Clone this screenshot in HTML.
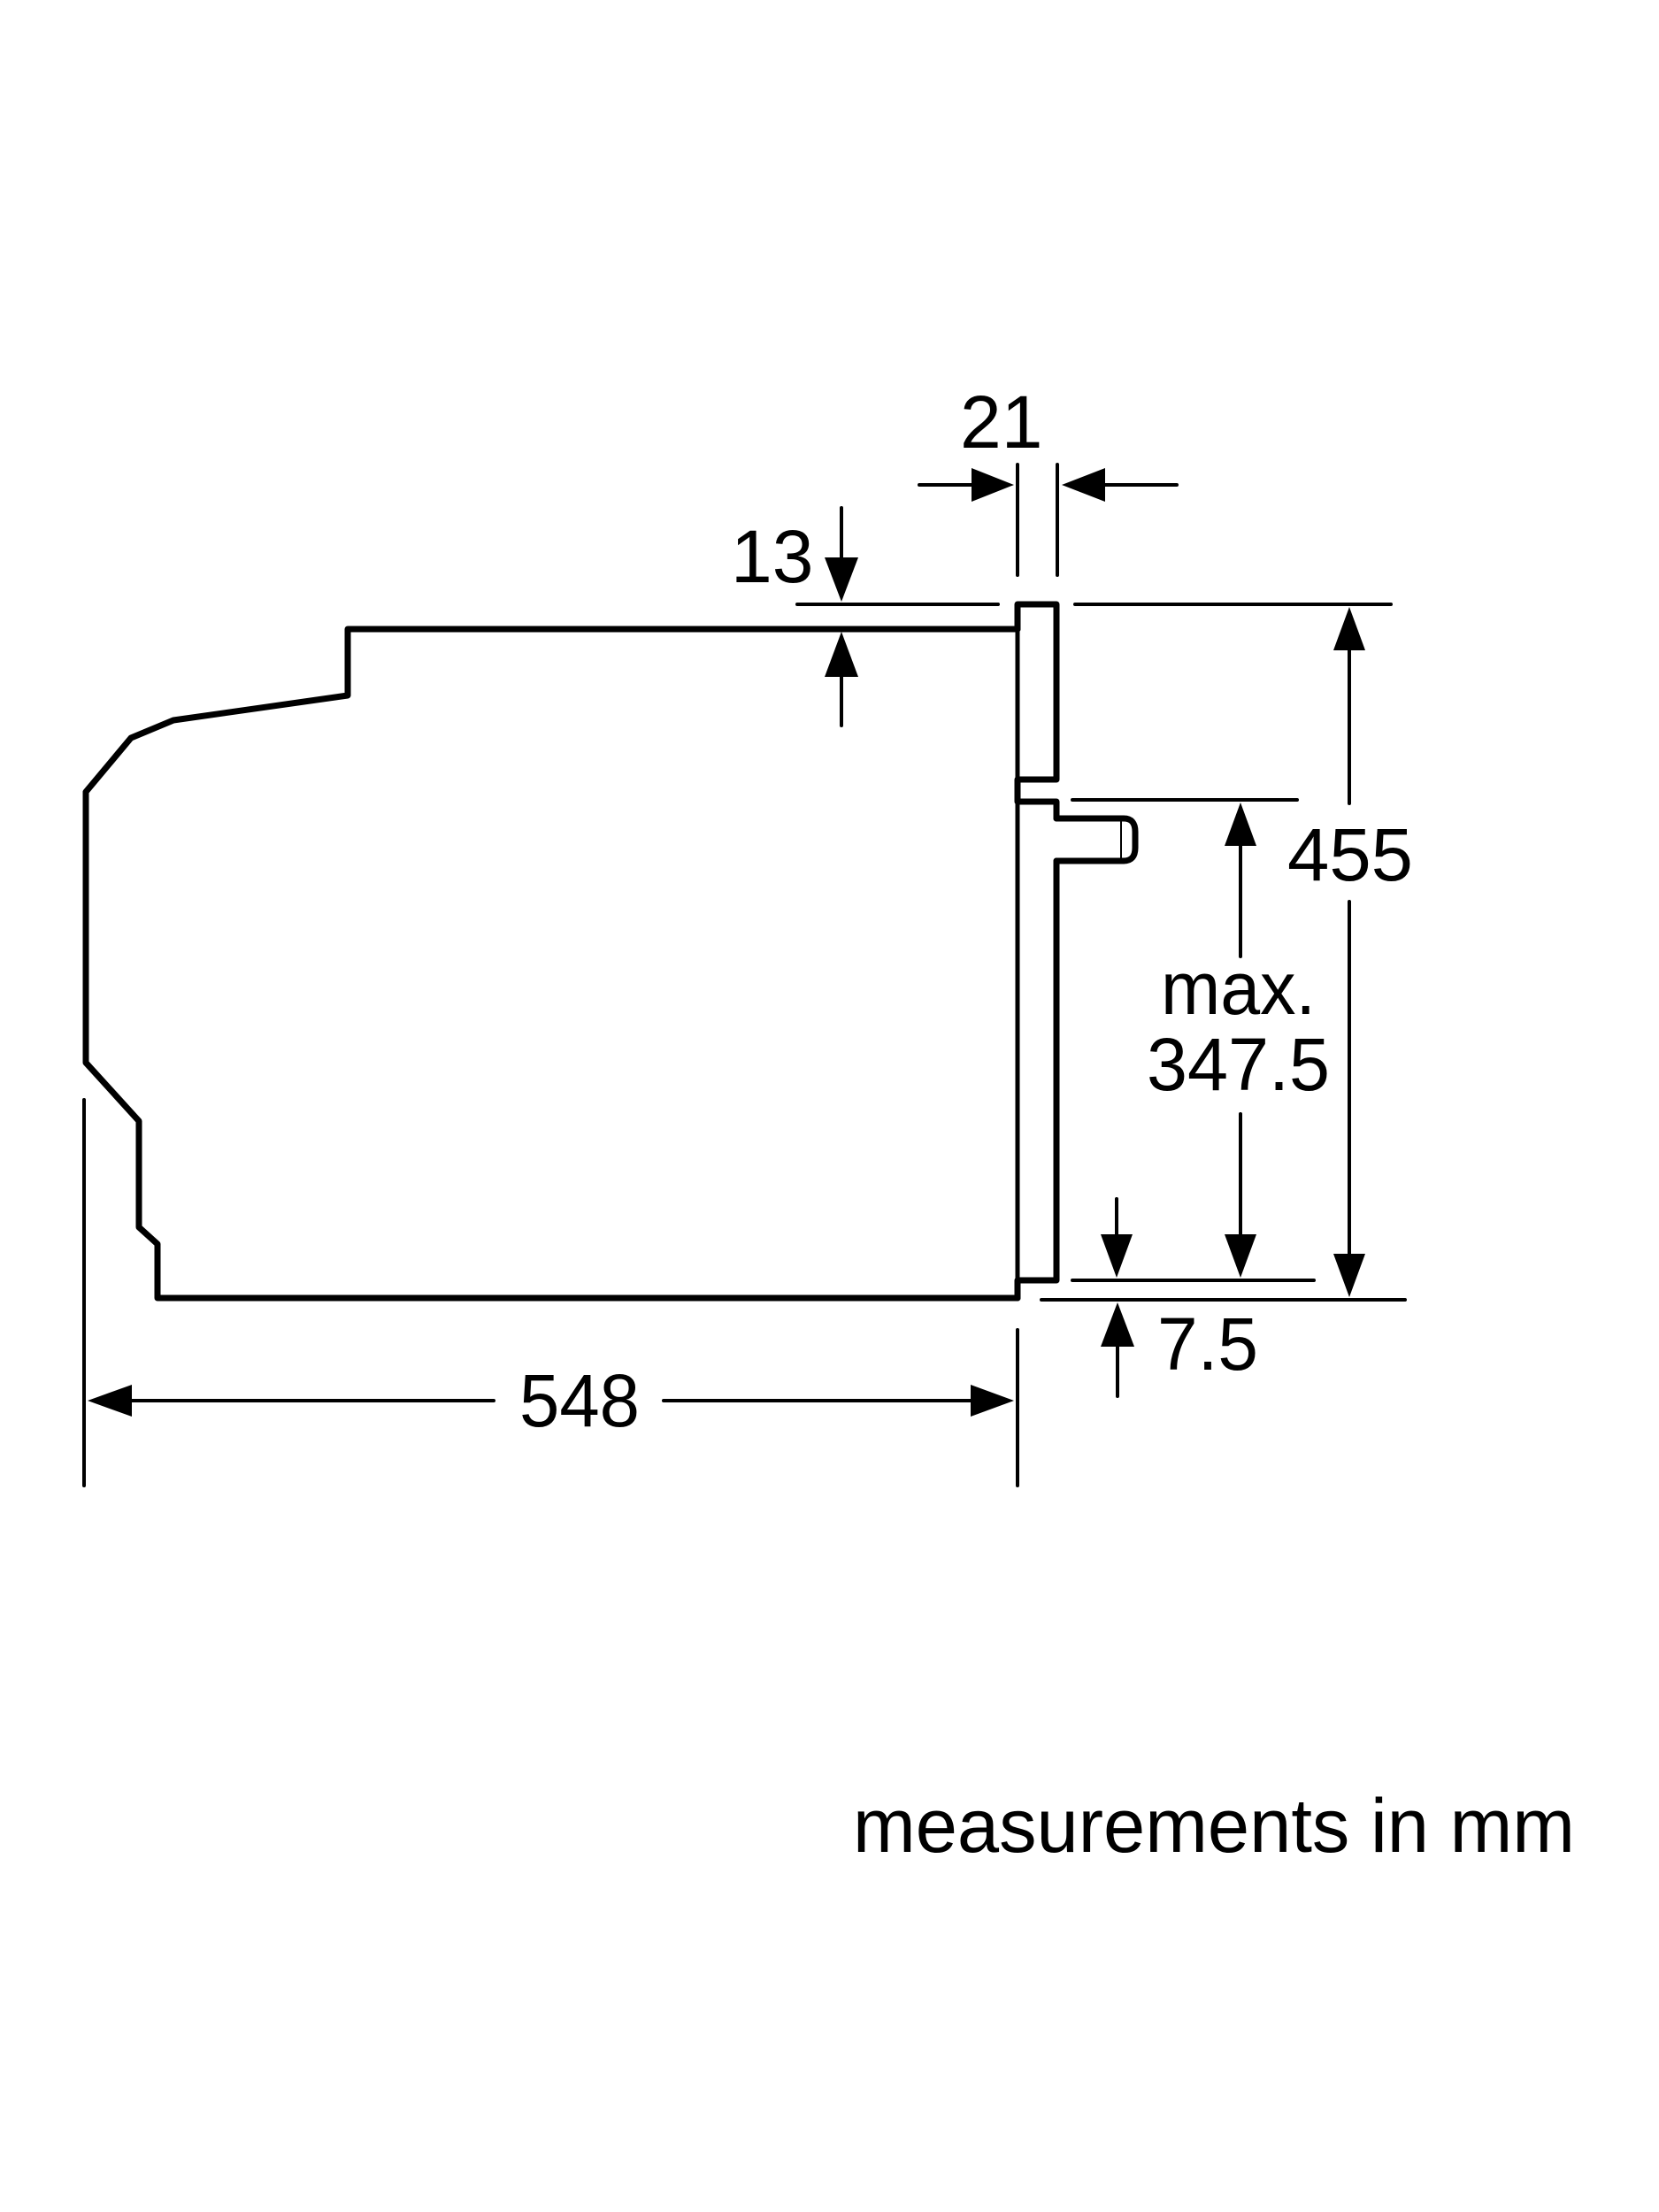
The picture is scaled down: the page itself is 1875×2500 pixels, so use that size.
<!DOCTYPE html>
<html><head><meta charset="utf-8"><style>html,body{margin:0;padding:0;background:#fff}svg{display:block}</style></head>
<body>
<svg width="1875" height="2500" viewBox="0 0 1875 2500" xmlns="http://www.w3.org/2000/svg">
<rect width="1875" height="2500" fill="#fff"/>
<g fill="none" stroke="#000" stroke-linejoin="round" stroke-linecap="round">
<polyline stroke-width="7" points="1150,711 393,711 393,786 196,814 148,834 97,895 97,1201 157,1267 157,1387 178,1406 178,1467 1150,1467"/>
<polyline stroke-width="7" points="1150,711 1150,683 1194,683 1194,881 1150,881 1150,906 1194,906 1194,925"/>
<line stroke-width="5" x1="1150" y1="711" x2="1150" y2="881"/>
<path stroke-width="7" d="M1194,925 L1270,925 Q1283,925 1283,940 L1283,958 Q1283,973 1270,973 L1194,973"/>
<line stroke-width="2" x1="1267" y1="928" x2="1267" y2="970"/>
<polyline stroke-width="7" points="1194,973 1194,1447 1150,1447 1150,1467"/>
<line stroke-width="5" x1="1150" y1="906" x2="1150" y2="1447"/>
<g stroke-width="4">
<line x1="901" y1="683" x2="1128" y2="683"/>
<line x1="1215" y1="683" x2="1572" y2="683"/>
<line x1="1212" y1="904" x2="1466" y2="904"/>
<line x1="1212" y1="1447" x2="1485" y2="1447"/>
<line x1="1177" y1="1469" x2="1588" y2="1469"/>
<line x1="1150" y1="525" x2="1150" y2="650"/>
<line x1="1195" y1="525" x2="1195" y2="650"/>
<line x1="1039" y1="548" x2="1100" y2="548"/>
<line x1="1245" y1="548" x2="1330" y2="548"/>
<line x1="951" y1="574" x2="951" y2="635"/>
<line x1="951" y1="760" x2="951" y2="820"/>
<line x1="1525" y1="730" x2="1525" y2="908"/>
<line x1="1525" y1="1019" x2="1525" y2="1420"/>
<line x1="1402" y1="950" x2="1402" y2="1081"/>
<line x1="1402" y1="1259" x2="1402" y2="1400"/>
<line x1="1262" y1="1355" x2="1262" y2="1400"/>
<line x1="1263" y1="1515" x2="1263" y2="1578"/>
<line x1="95" y1="1243" x2="95" y2="1679"/>
<line x1="1150" y1="1503" x2="1150" y2="1679"/>
<line x1="145" y1="1583" x2="558" y2="1583"/>
<line x1="750" y1="1583" x2="1100" y2="1583"/>
</g>
</g>
<g fill="#000">
<polygon points="1146,548 1098,529 1098,567"/>
<polygon points="1200,548 1249,529 1249,567"/>
<polygon points="951,680 932,630 970,630"/>
<polygon points="951,714 932,765 970,765"/>
<polygon points="1525,686 1507,735 1543,735"/>
<polygon points="1525,1466 1507,1417 1543,1417"/>
<polygon points="1402,907 1384,956 1420,956"/>
<polygon points="1402,1444 1384,1395 1420,1395"/>
<polygon points="1262,1444 1244,1395 1280,1395"/>
<polygon points="1263,1472 1244,1522 1282,1522"/>
<polygon points="99,1583 149,1565 149,1601"/>
<polygon points="1146,1583 1097,1565 1097,1601"/>
</g>
<g font-family="Liberation Sans, Arial, sans-serif" font-size="84" fill="#000">
<text x="1085" y="506">21</text>
<text x="826" y="658">13</text>
<text x="1455" y="995" textLength="142" lengthAdjust="spacingAndGlyphs">455</text>
<text x="1312" y="1146" textLength="175" lengthAdjust="spacingAndGlyphs">max.</text>
<text x="1296" y="1232" textLength="207" lengthAdjust="spacingAndGlyphs">347.5</text>
<text x="1308" y="1548" textLength="114" lengthAdjust="spacingAndGlyphs">7.5</text>
<text x="587" y="1612" textLength="136" lengthAdjust="spacingAndGlyphs">548</text>
<text x="964" y="2093" font-size="86" textLength="816" lengthAdjust="spacingAndGlyphs">measurements in mm</text>
</g>
</svg>
</body></html>
